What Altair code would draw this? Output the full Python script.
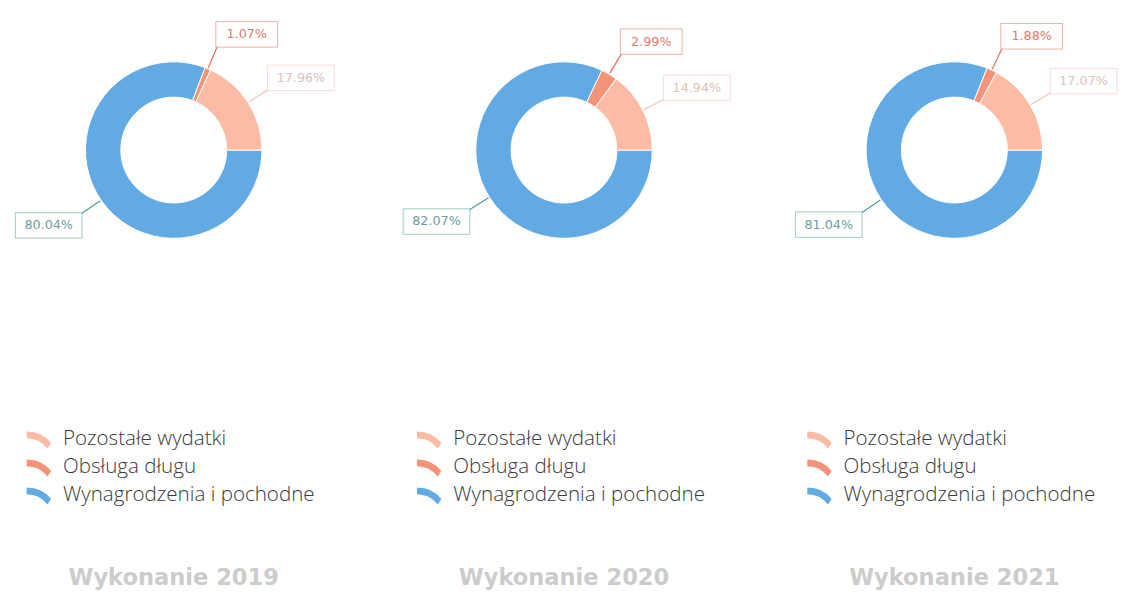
import altair as alt
import pandas as pd
import math

years = ["Wykonanie 2019", "Wykonanie 2020", "Wykonanie 2021"]
categories = ["Wynagrodzenia i pochodne", "Obsługa długu", "Pozostałe wydatki"]
legend_order = ["Pozostałe wydatki", "Obsługa długu", "Wynagrodzenia i pochodne"]
values_2019 = [80.04, 1.07, 17.96]
values_2020 = [82.07, 2.99, 14.94]
values_2021 = [81.04, 1.88, 17.07]
labels_2019 = ["80.04%", "1.07%", "17.96%"]
labels_2020 = ["82.07%", "2.99%", "14.94%"]
labels_2021 = ["81.04%", "1.88%", "17.07%"]

slice_colors = ["#62aae4", "#f4937a", "#fbbba4"]
line_colors = ["#4f9c9e", "#e0705e", "#f2c2b4"]
text_colors = ["#6a9ea3", "#e07a70", "#d9c3bb"]

W, H = 318, 555
CX, CY = 164, 134
R_OUT, R_IN = 90, 54
R_L0, R_L1 = 91, 116

series = [values_2019, values_2020, values_2021]
labelsets = [labels_2019, labels_2020, labels_2021]

legend_path = "M -1 -0.6 Q 0.3 -0.6 1 0.35 L 0.7 0.8 Q 0.05 -0.05 -1 -0.05 Z"

xs = alt.Scale(domain=[0, W], range=[0, W], nice=False, zero=False)
ys = alt.Scale(domain=[0, H], reverse=True, nice=False, zero=False)


def panel(year, vals, labs):
    df = pd.DataFrame({
        "cat": categories,
        "val": vals,
        "lab": labs,
        "idx": list(range(len(categories))),
        "lc": line_colors,
        "tc": text_colors,
    })
    base = alt.Chart(df)
    arc = base.mark_arc(innerRadius=R_IN, outerRadius=R_OUT, stroke="white", strokeWidth=1).encode(
        theta=alt.Theta("val:Q", stack=True,
                        scale=alt.Scale(range=[math.pi / 2, math.pi / 2 + 2 * math.pi])),
        order=alt.Order("idx:Q"),
        color=alt.Color("cat:N",
                        scale=alt.Scale(domain=legend_order,
                                        range=[slice_colors[2], slice_colors[1], slice_colors[0]]),
                        legend=alt.Legend(title=None, orient="none", legendX=14, legendY=416,
                                          symbolType=legend_path, symbolSize=620,
                                          symbolStrokeWidth=0, labelFontSize=21,
                                          labelFont="Open Sans", labelFontWeight=300,
                                          labelColor="#3a3a3a", labelLimit=400,
                                          labelOffset=12, rowPadding=5.5)),
        x=alt.value(CX), y=alt.value(CY),
    )

    geo = base.transform_joinaggregate(total="sum(val)").transform_window(
        cum="sum(val)", sort=[alt.SortField("idx")]
    ).transform_calculate(
        a=f"PI/2 + 2*PI*(datum.cum - datum.val/2)/datum.total"
    ).transform_calculate(
        sx=f"{CX} + {R_L0}*sin(datum.a)",
        sy=f"{CY} - {R_L0}*cos(datum.a)",
        ex=f"{CX} + {R_L1}*sin(datum.a)",
        ey=f"{CY} - {R_L1}*cos(datum.a)",
        side="sin(datum.a) >= 0 ? 1 : -1",
        bw="5*length(datum.lab) + 38",
    ).transform_calculate(
        by="datum.ey + (cos(datum.a) >= 0 ? -11 : 11)",
        bx0="datum.side > 0 ? datum.ex - 2 : datum.ex - datum.bw + 2",
    ).transform_calculate(
        bx1="datum.bx0 + datum.bw",
        by0="datum.by - 13",
        by1="datum.by + 13",
        tx="datum.bx0 + datum.bw/2",
    )

    leader = geo.mark_rule(strokeWidth=1.2).encode(
        x=alt.X("sx:Q", scale=xs, axis=None),
        y=alt.Y("sy:Q", scale=ys, axis=None),
        x2="ex:Q", y2="ey:Q",
        color=alt.Color("lc:N", scale=None),
    )
    box = geo.mark_rect(fill="white", strokeWidth=1, opacity=1).encode(
        x=alt.X("bx0:Q", scale=xs, axis=None),
        x2="bx1:Q",
        y=alt.Y("by0:Q", scale=ys, axis=None),
        y2="by1:Q",
        stroke=alt.Stroke("lc:N", scale=None),
        strokeOpacity=alt.value(0.55),
    )
    txt = geo.mark_text(fontSize=13, font="DejaVu Sans", align="center", baseline="middle").encode(
        x=alt.X("tx:Q", scale=xs, axis=None),
        y=alt.Y("by:Q", scale=ys, axis=None),
        text="lab:N",
        color=alt.Color("tc:N", scale=None),
    )
    return alt.layer(arc, leader, box, txt).properties(
        width=W, height=H,
        title=alt.TitleParams(year, orient="bottom", anchor="middle", fontSize=23,
                              font="DejaVu Sans", fontWeight="bold", color="#cccccc",
                              offset=5, frame="group", dx=CX - W / 2),
    ).resolve_scale(color="independent")


panels = [panel(y, v, l) for y, v, l in zip(years, series, labelsets)]
chart = alt.hconcat(*panels, spacing=80, bounds="flush").resolve_scale(
    color="independent", theta="independent", x="independent", y="independent"
).resolve_legend(color="independent").properties(
    background="white"
).configure_view(strokeWidth=0)

chart.save("out.html", embed_options={"renderer": "svg", "actions": False})
